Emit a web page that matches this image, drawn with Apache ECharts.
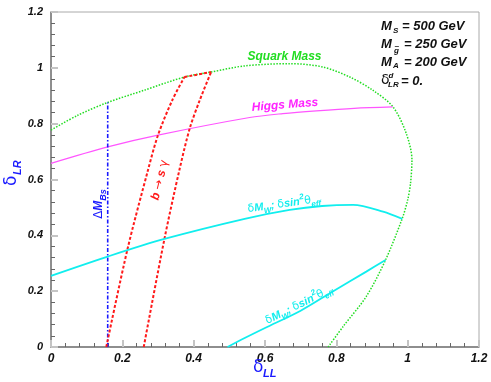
<!DOCTYPE html>
<html>
<head>
<meta charset="utf-8">
<script src="https://cdn.jsdelivr.net/npm/echarts@6/dist/echarts.min.js"></script>
<style>
  html, body { margin: 0; background: #fff; }
  #chart { width: 491px; height: 382px; }
</style>
</head>
<body>
<div id="chart"></div>
<script>
// curves, [deltaLL, deltaLR]
const squarkMass = [[0, 0.777], [0.075, 0.83], [0.159, 0.876], [0.262, 0.92], [0.374, 0.967], [0.449, 0.985],
  [0.543, 1.007], [0.67, 1.015], [0.762, 1.003], [0.838, 0.967], [0.902, 0.92], [0.959, 0.86], [0.996, 0.765],
  [1.012, 0.67], [1.008, 0.586], [1.0, 0.527], [0.985, 0.461], [0.938, 0.312], [0.884, 0.181], [0.82, 0.075], [0.777, 0]];
const higgsMass = [[0, 0.658], [0.159, 0.717], [0.30, 0.759], [0.557, 0.822], [0.65, 0.836], [0.744, 0.846], [0.85, 0.855], [0.958, 0.86]];
const deltaMBs = [[0.159, 0], [0.159, 0.876]];
const bsgLeft = [[0.155, 0], [0.214, 0.348], [0.272, 0.634], [0.30, 0.759], [0.34, 0.884], [0.374, 0.967]];
const bsgTop = [[0.374, 0.967], [0.449, 0.985]];
const bsgRight = [[0.26, 0], [0.318, 0.387], [0.36, 0.634], [0.389, 0.783], [0.417, 0.884], [0.449, 0.985]];
const ewUpper = [[0, 0.255], [0.159, 0.324], [0.318, 0.387], [0.543, 0.459], [0.669, 0.491], [0.76, 0.505], [0.847, 0.509], [0.931, 0.485], [0.985, 0.459]];
const ewLower = [[0.495, 0], [0.543, 0.032], [0.6, 0.068], [0.7, 0.13], [0.79, 0.199], [0.884, 0.27], [0.938, 0.312]];

const fam = "Liberation Sans";
const green = "#22dd22";
const magenta = "#ff55ff";
const cyan = "#11eeee";
const blue = "#1a1aff";
const red = "#ff1a1a";

const chart = echarts.init(document.getElementById("chart"), null, { renderer: "canvas" });

function curve(data, color, width, type, smooth = 0.3) {
  return {
    type: "line",
    data,
    symbol: "none",
    smooth,
    silent: true,
    lineStyle: { color, width, type },
  };
}

function bi(size) {
  return "italic bold " + size + "px " + fam;
}

function txt(x, y, text, font, fill, extra = {}) {
  return {
    type: "text",
    x, y,
    rotation: extra.rotation || 0,
    silent: true,
    z: 20,
    style: {
      text, font, fill,
      align: extra.align || "left", verticalAlign: "middle",
      textAlign: extra.align || "left", textVerticalAlign: "middle",
      rich: extra.rich,
    },
  };
}

// rich styles for sub/superscripts inside a rotated label
function richSet(color, size, sub) {
  return {
    t: { font: bi(size), fill: color, lineHeight: size + 6 },
    g: { font: size + "px DejaVu Sans", fill: color, lineHeight: size + 6 },
    sb: { font: bi(sub), fill: color, lineHeight: sub, verticalAlign: "bottom" },
    sp: { font: bi(sub), fill: color, lineHeight: sub, verticalAlign: "top" },
  };
}

const ewText = "{g|δ}{t|M}{sb|W}{t|; }{g|δ}{t|sin}{sp|2}{g|θ}{sb|eff}";

function axisCommon() {
  return {
    type: "value",
    min: 0,
    max: 1.2,
    interval: 0.2,
    axisLine: { show: true, lineStyle: { color: "#777", width: 1.5 } },
    axisTick: { show: true, inside: true, length: 7, lineStyle: { color: "#c4c4c4", width: 2 } },
    minorTick: { show: true, splitNumber: 5, length: 4, lineStyle: { color: "#666", width: 1 } },
    splitLine: { show: false },
  };
}

chart.setOption({
  animation: false,
  backgroundColor: "#fff",
  grid: { left: 51, right: 12, top: 12, bottom: 35, show: true, borderColor: "#aaa", borderWidth: 1 },
  xAxis: {
    ...axisCommon(),
    axisLabel: { color: "#111", fontFamily: fam, fontWeight: "bold", fontStyle: "italic", fontSize: 12, margin: 6 },
  },
  yAxis: {
    ...axisCommon(),
    axisLabel: { color: "#111", fontFamily: fam, fontWeight: "bold", fontStyle: "italic", fontSize: 11, margin: 8 },
  },
  series: [
    curve(squarkMass, green, 1.5, [1.5, 1.5]),
    curve(higgsMass, magenta, 1.2, "solid"),
    curve(deltaMBs, blue, 1.6, [4, 2, 1.5, 2], false),
    curve(bsgLeft, red, 2, [3, 2]),
    curve(bsgTop, red, 2, [3, 2], false),
    curve(bsgRight, red, 2, [3, 2]),
    curve(ewUpper, cyan, 1.8, "solid"),
    curve(ewLower, cyan, 1.8, "solid"),
  ],
  graphic: [
    // parameter block
    txt(381, 26.5, "M", bi(13), "#111"),
    txt(393, 31, "S", bi(8), "#111"),
    txt(402, 26.5, "= 500 GeV", bi(13), "#111"),
    txt(381, 44.5, "M", bi(13), "#111"),
    txt(394, 50.5, "g", bi(8), "#111"),
    txt(394.5, 46.5, "~", "bold 8px " + fam, "#111"),
    txt(404, 44.5, "= 250 GeV", bi(13), "#111"),
    txt(381, 62.5, "M", bi(13), "#111"),
    txt(393, 65.5, "A", bi(8), "#111"),
    txt(404, 62.5, "= 200 GeV", bi(13), "#111"),
    txt(381, 80.5, "δ", "14px DejaVu Sans", "#111"),
    txt(388.5, 76, "d", bi(8), "#111"),
    txt(388, 85, "LR", bi(8), "#111"),
    txt(401, 81, "= 0.", bi(13), "#111"),

    // curve labels
    txt(284.5, 57, "Squark Mass", bi(12), green, { align: "center" }),
    txt(285, 105, "Higgs Mass", bi(12), "#ff22ff", { align: "center", rotation: 0.08 }),
    txt(284, 204, ewText, bi(11), cyan, { align: "center", rotation: 0.14, rich: richSet(cyan, 11, 8) }),
    txt(299, 305, ewText, bi(11), cyan, { align: "center", rotation: 0.46, rich: richSet(cyan, 11, 8) }),
    txt(99, 204, "{g|Δ}{t|M}{sb|Bs}", bi(12), blue, { align: "center", rotation: Math.PI / 2, rich: richSet(blue, 12, 9) }),
    txt(160, 180, "{t|b }{g|→}{t| s }{g|γ}", bi(12), red, { align: "center", rotation: 1.33, rich: richSet(red, 12, 9) }),

    // axis titles
    txt(253, 368, "δ", "17px DejaVu Sans", blue),
    txt(263, 374, "LL", bi(11), blue),
    txt(12, 186, "δ", "17px DejaVu Sans", blue, { rotation: Math.PI / 2 }),
    txt(18, 175, "LR", bi(11), blue, { rotation: Math.PI / 2 }),
  ],
});
</script>
</body>
</html>
